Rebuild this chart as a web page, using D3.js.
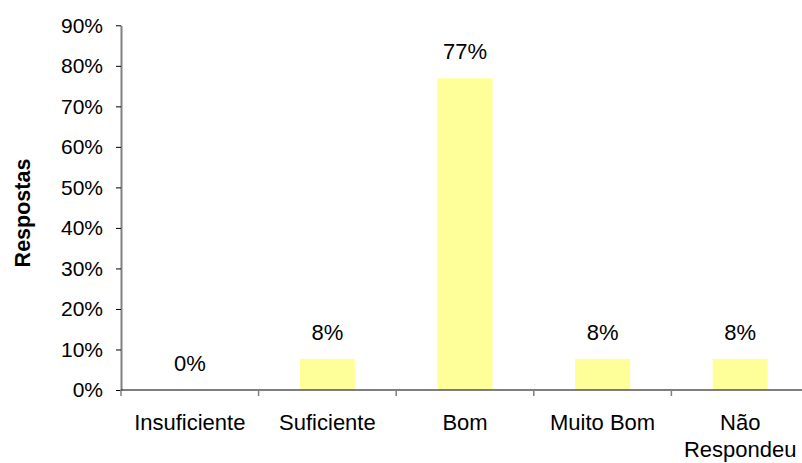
<!DOCTYPE html>
<html>
<head>
<meta charset="utf-8">
<script src="https://cdn.jsdelivr.net/npm/d3@7"></script>
<style>
  html, body { margin: 0; padding: 0; background: #fff; }
  svg { display: block; font-family: "Liberation Sans", Arial, sans-serif; }
</style>
</head>
<body>
<svg id="chart" width="802" height="463"></svg>
<script>
const categories = ["Insuficiente", "Suficiente", "Bom", "Muito Bom", "Não Respondeu"];
const categoryLines = [["Insuficiente"], ["Suficiente"], ["Bom"], ["Muito Bom"], ["Não", "Respondeu"]];
const values = [0, 0.0769, 0.7692, 0.0769, 0.0769];
const valueLabels = ["0%", "8%", "77%", "8%", "8%"];
const yTicks = [0, 0.1, 0.2, 0.3, 0.4, 0.5, 0.6, 0.7, 0.8, 0.9];
const yTitle = "Respostas";

(function () {
const svg = d3.select("#chart");
const pLeft = 121, pRight = 809, pTop = 25.3, pBottom = 390;

const x = d3.scaleBand().domain(categories).range([pLeft, pRight]).paddingInner(0).paddingOuter(0);
const y = d3.scaleLinear().domain([0, 0.9]).range([pBottom, pTop]);

const barW = x.bandwidth() * 0.4;

// bars
svg.append("g").selectAll("rect").data(values).join("rect")
  .attr("x", (d, i) => x(categories[i]) + (x.bandwidth() - barW) / 2)
  .attr("y", d => y(d))
  .attr("width", barW)
  .attr("height", d => y(0) - y(d))
  .attr("fill", "#FFFF99");

// y axis
const yAxis = svg.append("g").attr("transform", `translate(${pLeft},0)`)
  .call(d3.axisLeft(y).tickValues(yTicks).tickFormat(d3.format(".0%")).tickSizeInner(5).tickSizeOuter(0).tickPadding(13));
yAxis.select(".domain").attr("stroke", "#808080").attr("stroke-width", 2);
yAxis.selectAll(".tick line").attr("stroke", "#000");
yAxis.selectAll(".tick text").attr("font-size", 21).attr("fill", "#000").attr("font-family", "Liberation Sans, Arial, sans-serif");

// x axis line
svg.append("line").attr("x1", pLeft).attr("x2", pRight).attr("y1", y(0)).attr("y2", y(0))
  .attr("stroke", "#000").attr("stroke-width", 1.2);

// boundary ticks
svg.append("g").selectAll("line").data(categories).join("line")
  .attr("x1", d => x(d)).attr("x2", d => x(d))
  .attr("y1", y(0)).attr("y2", y(0) + 6)
  .attr("stroke", "#808080").attr("stroke-width", 1.5);

// category labels
const catG = svg.append("g").selectAll("text").data(categories).join("text")
  .attr("text-anchor", "middle")
  .attr("font-size", 22)
  .attr("fill", "#000");
catG.each(function(d, i) {
  const t = d3.select(this);
  categoryLines[i].forEach((ln, j) => {
    t.append("tspan").attr("x", x(d) + x.bandwidth() / 2).attr("y", 430 + j * 27).text(ln);
  });
});

// value labels
svg.append("g").selectAll("text").data(values).join("text")
  .attr("x", (d, i) => x(categories[i]) + x.bandwidth() / 2)
  .attr("y", d => y(d) - 19)
  .attr("text-anchor", "middle")
  .attr("font-size", 22)
  .attr("fill", "#000")
  .text((d, i) => valueLabels[i]);

// y title
svg.append("text")
  .attr("transform", `translate(29.5,213) rotate(-90)`)
  .attr("text-anchor", "middle")
  .attr("font-size", 21.5)
  .attr("font-weight", "bold")
  .attr("fill", "#000")
  .text(yTitle);
})();
</script>
</body>
</html>
